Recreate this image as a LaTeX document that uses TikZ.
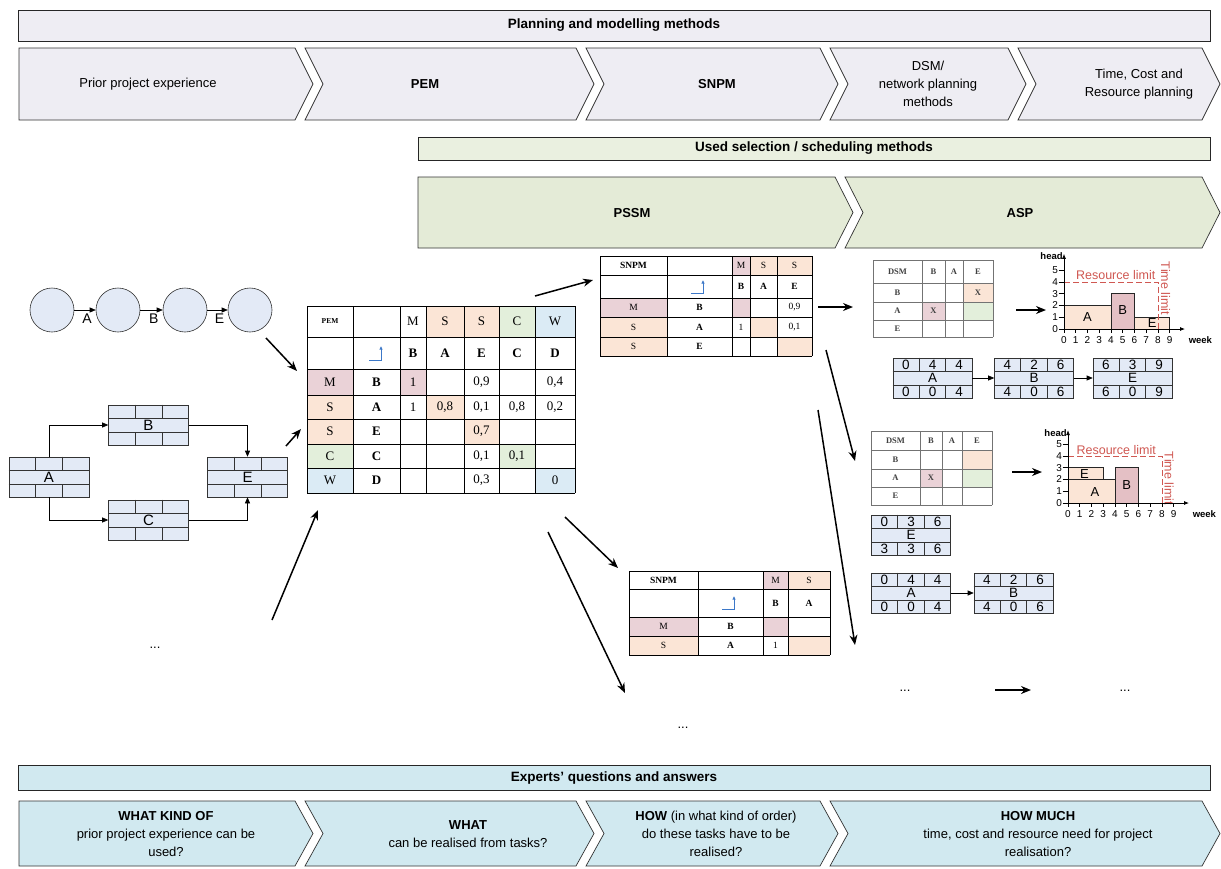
\documentclass[tikz,border=0pt]{standalone}
\usepackage{fontspec}
\setmainfont{Liberation Serif}
\setsansfont{Liberation Sans}
\usetikzlibrary{arrows.meta,calc}
\definecolor{lav}{RGB}{238,237,243}
\definecolor{grnbar}{RGB}{234,240,224}
\definecolor{grnch}{RGB}{228,235,215}
\definecolor{cyn}{RGB}{209,233,240}
\definecolor{bx}{RGB}{227,234,246}
\definecolor{mpink}{RGB}{234,210,215}
\definecolor{morg}{RGB}{251,229,214}
\definecolor{mgrn}{RGB}{227,239,219}
\definecolor{mblu}{RGB}{219,235,245}
\definecolor{rlim}{RGB}{208,88,82}
\definecolor{bpink}{RGB}{228,192,197}
\definecolor{iconblue}{RGB}{60,120,200}
\tikzset{
  chv/.style={draw=black!80, line width=0.7pt},
  clbl/.style={font=\sffamily\fontsize{13}{18}\selectfont, align=center, inner sep=0pt},
  hbar/.style={draw=black!85, line width=0.9pt, inner sep=0pt, font=\sffamily\bfseries\fontsize{13.5}{15}\selectfont},
  big/.style={line width=1.5pt, -{Stealth[length=10pt,width=8pt]}},
  small/.style={line width=0.6pt, -{Triangle[length=6pt,width=5pt]}},
  gridln/.style={draw=black!80, line width=0.6pt},
  circ/.style={circle, draw=black!80, fill=bx, minimum size=44pt, inner sep=0pt, line width=0.6pt},
  clab/.style={font=\sffamily\fontsize{14}{14}\selectfont, inner sep=0pt},
  brick/.style={draw=black!80, fill=bx, minimum width=80pt, minimum height=40pt, inner sep=0pt, line width=0.6pt, font=\sffamily\fontsize{15}{15}\selectfont},
  tbox/.style={draw=black!80, fill=bx, minimum width=79pt, minimum height=40pt, inner sep=0pt, line width=0.6pt, font=\sffamily\fontsize{13.5}{13.5}\selectfont},
  dig/.style={font=\sffamily\fontsize{13.5}{13.5}\selectfont, inner sep=0pt},
  mgrid/.style={draw=black, line width=0.9pt},
  sgrid/.style={draw=black, line width=0.7pt},
  dgrid/.style={draw=black!55, line width=1pt},
  mt/.style={font=\fontsize{13}{13}\selectfont, inner sep=0pt},
  mtb/.style={font=\bfseries\fontsize{13}{13}\selectfont, inner sep=0pt},
  ms/.style={font=\fontsize{9.5}{10}\selectfont, inner sep=0pt},
  msb/.style={font=\bfseries\fontsize{9.5}{10}\selectfont, inner sep=0pt},
  mtiny/.style={font=\bfseries\fontsize{7.5}{8}\selectfont, inner sep=0pt},
  dt/.style={font=\bfseries\fontsize{8.5}{9}\selectfont, inner sep=0pt, text=black!75},
  icon/.style={draw=iconblue, line width=0.9pt, -{Latex[length=3.5pt,width=3.5pt]}},
  chbar/.style={draw=black!85, line width=0.7pt},
  ax/.style={draw=black, line width=0.8pt},
  axarr/.style={draw=black, line width=0.8pt, -{Latex[length=5pt,width=4pt]}},
  axl/.style={font=\sffamily\fontsize{10}{10}\selectfont, inner sep=0pt},
  axb/.style={font=\sffamily\bfseries\fontsize{9.5}{10}\selectfont, inner sep=0pt},
  barl/.style={font=\sffamily\fontsize{13}{13}\selectfont, inner sep=0pt},
  limtxt/.style={font=\sffamily\fontsize{12.5}{13}\selectfont, text=rlim, inner sep=0pt},
  limln/.style={draw=rlim, line width=1pt, dash pattern=on 6pt off 3pt},
  dots/.style={font=\sffamily\fontsize{13}{13}\selectfont, inner sep=0pt},
}
\newcommand\brickgrid[1]{%
  \draw[gridln] ($(#1.north west)+(0,13.33)$) -- ($(#1.north east)+(0,13.33)$);
  \draw[gridln] ($(#1.south west)+(0,-13.33)$) -- ($(#1.south east)+(0,-13.33)$);
  \draw[gridln] ($(#1.north west)!1/3!(#1.north east)$) -- ++(0,13.33);
  \draw[gridln] ($(#1.north west)!2/3!(#1.north east)$) -- ++(0,13.33);
  \draw[gridln] ($(#1.south west)!1/3!(#1.south east)$) -- ++(0,-13.33);
  \draw[gridln] ($(#1.south west)!2/3!(#1.south east)$) -- ++(0,-13.33);
}
\newcommand\tdig[7]{%
  \brickgrid{#1}
  \node[dig] (#1-t1) at ($(#1.north west)!1/6!(#1.north east)+(0,6.67)$) {#2};
  \node[dig] (#1-t2) at ($(#1.north west)!3/6!(#1.north east)+(0,6.67)$) {#3};
  \node[dig] (#1-t3) at ($(#1.north west)!5/6!(#1.north east)+(0,6.67)$) {#4};
  \node[dig] (#1-b1) at ($(#1.south west)!1/6!(#1.south east)+(0,-6.67)$) {#5};
  \node[dig] (#1-b2) at ($(#1.south west)!3/6!(#1.south east)+(0,-6.67)$) {#6};
  \node[dig] (#1-b3) at ($(#1.south west)!5/6!(#1.south east)+(0,-6.67)$) {#7};
}
\begin{document}
\begin{tikzpicture}[x=1pt,y=-1pt]
\useasboundingbox (0,0) rectangle (1221,868);
\fill[white] (0,0) rectangle (1221,868);

% ---------- top: planning and modelling methods ----------
\node[hbar, fill=lav, minimum width=1192pt, minimum height=31pt] (h1) at (614,25.5) {Planning and modelling methods};
\draw[chv, fill=lav] (19,48) -- (295,48) -- (313,84) -- (295,120) -- (19,120) -- cycle;
\draw[chv, fill=lav] (305,48) -- (576,48) -- (594,84) -- (576,120) -- (305,120) -- (323,84) -- cycle;
\draw[chv, fill=lav] (586,48) -- (820,48) -- (838,84) -- (820,120) -- (586,120) -- (604,84) -- cycle;
\draw[chv, fill=lav] (830,48) -- (1008,48) -- (1026,84) -- (1008,120) -- (830,120) -- (848,84) -- cycle;
\draw[chv, fill=lav] (1018,48) -- (1202,48) -- (1220,84) -- (1202,120) -- (1018,120) -- (1036,84) -- cycle;
\node[clbl] (t1) at (148,84) {Prior project experience};
\node[clbl] (t2) at (425,84) {\bfseries PEM};
\node[clbl] (t3) at (717,84) {\bfseries SNPM};
\node[clbl] (t4) at (928,84) {DSM/\\network planning\\methods};
\node[clbl] (t5) at (1139,84) {Time, Cost and\\Resource planning};

% ---------- used selection / scheduling methods ----------
\node[hbar, fill=grnbar, minimum width=792pt, minimum height=23pt] (h2) at (814,148.5) {Used selection / scheduling methods};
\draw[chv, fill=grnch] (418,177) -- (835,177) -- (853,212.5) -- (835,248) -- (418,248) -- cycle;
\draw[chv, fill=grnch] (845,177) -- (1202,177) -- (1220,212.5) -- (1202,248) -- (845,248) -- (863,212.5) -- cycle;
\node[clbl] (t6) at (632,213) {\bfseries PSSM};
\node[clbl] (t7) at (1020,213) {\bfseries ASP};

% ---------- left: network with circles ----------
\node[circ] (k1) at (52,310) {};
\node[circ] (k2) at (118,310) {};
\node[circ] (k3) at (185,310) {};
\node[circ] (k4) at (250,310) {};
\draw[small] (k1) -- (k2) node[pos=0.6, below=4pt, clab] (lA) {A};
\draw[small] (k2) -- (k3) node[pos=0.6, below=4pt, clab] (lB) {B};
\draw[small] (k3) -- (k4) node[pos=0.6, below=4pt, clab] (lE) {E};

% ---------- left: precedence network with bricks ----------
\node[brick] (bA) at (49,477) {A};
\node[brick] (bB) at (148.5,425) {B};
\node[brick] (bC) at (148.5,520) {C};
\node[brick] (bE) at (247.5,477) {E};
\brickgrid{bA}\brickgrid{bB}\brickgrid{bC}\brickgrid{bE}
\draw[small] (bA.north) |- (bB.west);
\draw[small] (bB.east) -| (bE.north);
\draw[small] (bA.south) |- (bC.west);
\draw[small] (bC.east) -| (bE.south);
\node[dots] (d1) at (155,648) {...};

% ---------- thick arrows ----------
\coordinate (a1s) at (266,338); \coordinate (a1e) at (297,371);
\coordinate (a2s) at (286,446); \coordinate (a2e) at (301,429);
\coordinate (a3s) at (272,620); \coordinate (a3e) at (318,510);
\coordinate (a4s) at (535,296); \coordinate (a4e) at (593,280);
\coordinate (a5s) at (565,517); \coordinate (a5e) at (618,568);
\coordinate (a6s) at (548,532); \coordinate (a6e) at (625,693);
\coordinate (a7s) at (818,307); \coordinate (a7e) at (853,307);
\coordinate (a8s) at (826,350); \coordinate (a8e) at (855,461);
\coordinate (a9s) at (818,410); \coordinate (a9e) at (855,645);
\coordinate (a10s) at (1016,310); \coordinate (a10e) at (1046,310);
\coordinate (a11s) at (1012,472); \coordinate (a11e) at (1042,472);
\coordinate (a12s) at (995,690); \coordinate (a12e) at (1031,690);
\foreach \n in {1,...,12} \draw[big] (a\n s) -- (a\n e);

% ---------- PEM matrix ----------
\fill[morg] (426,306) rectangle (464,337);
\fill[morg] (464,306) rectangle (499,337);
\fill[mgrn] (499,306) rectangle (535,337);
\fill[mblu] (535,306) rectangle (575,337);
\fill[mpink] (307,369) rectangle (353,395);
\fill[mpink] (400,369) rectangle (426,395);
\fill[morg] (307,395) rectangle (353,419);
\fill[morg] (426,395) rectangle (464,419);
\fill[morg] (307,419) rectangle (353,444);
\fill[morg] (464,419) rectangle (499,444);
\fill[mgrn] (307,444) rectangle (353,468);
\fill[mgrn] (499,444) rectangle (535,468);
\fill[mblu] (307,468) rectangle (353,493);
\fill[mblu] (535,468) rectangle (575,493);
\foreach \x in {307,353,400,426,464,499,535,575} \draw[mgrid] (\x,306) -- (\x,493);
\foreach \y in {306,337,369,395,419,444,468,493} \draw[mgrid] (307,\y) -- (575,\y);
\node[mtiny] (p0) at (330,321.5) {PEM};
\node[mt] (p1) at (413,321.5) {M};
\node[mt] (p2) at (445,321.5) {S};
\node[mt] (p3) at (481.5,321.5) {S};
\node[mt] (p4) at (517,321.5) {C};
\node[mt] (p5) at (555,321.5) {W};
\draw[icon] (369,360) -- (381,360) -- (381,346);
\node[mtb] (p6) at (413,353) {B};
\node[mtb] (p7) at (445,353) {A};
\node[mtb] (p8) at (481.5,353) {E};
\node[mtb] (p9) at (517,353) {C};
\node[mtb] (p10) at (555,353) {D};
\node[mt] (p11) at (330,382) {M};
\node[mtb] (p12) at (376.5,382) {B};
\node[mt] (p13) at (413,382) {1};
\node[mt] (p14) at (481.5,382) {0,9};
\node[mt] (p15) at (555,382) {0,4};
\node[mt] (p16) at (330,407) {S};
\node[mtb] (p17) at (376.5,407) {A};
\node[mt] (p18) at (413,407) {1};
\node[mt] (p19) at (445,407) {0,8};
\node[mt] (p20) at (481.5,407) {0,1};
\node[mt] (p21) at (517,407) {0,8};
\node[mt] (p22) at (555,407) {0,2};
\node[mt] (p23) at (330,431.5) {S};
\node[mtb] (p24) at (376.5,431.5) {E};
\node[mt] (p25) at (481.5,431.5) {0,7};
\node[mt] (p26) at (330,456) {C};
\node[mtb] (p27) at (376.5,456) {C};
\node[mt] (p28) at (481.5,456) {0,1};
\node[mt] (p29) at (517,456) {0,1};
\node[mt] (p30) at (330,480.5) {W};
\node[mtb] (p31) at (376.5,480.5) {D};
\node[mt] (p32) at (481.5,480.5) {0,3};
\node[mt] (p33) at (555,480.5) {0};

% ---------- SNPM matrix (top) ----------
\fill[mpink] (732,256) rectangle (750,275);
\fill[morg] (750,256) rectangle (777,275);
\fill[morg] (777,256) rectangle (812,275);
\fill[mpink] (600,298) rectangle (667,317);
\fill[mpink] (732,298) rectangle (750,317);
\fill[morg] (600,317) rectangle (667,337);
\fill[morg] (750,317) rectangle (777,337);
\fill[morg] (600,337) rectangle (667,356);
\fill[morg] (777,337) rectangle (812,356);
\foreach \x in {600,667,732,750,777,812} \draw[sgrid] (\x,256) -- (\x,356);
\foreach \y in {256,275,298,317,337,356} \draw[sgrid] (600,\y) -- (812,\y);
\node[msb] (s0) at (633.5,265.5) {SNPM};
\node[ms] (s1) at (741,265.5) {M};
\node[ms] (s2) at (763.5,265.5) {S};
\node[ms] (s3) at (794.5,265.5) {S};
\draw[icon] (691,293) -- (703,293) -- (703,280);
\node[msb] (s4) at (741,286.5) {B};
\node[msb] (s5) at (763.5,286.5) {A};
\node[msb] (s6) at (794.5,286.5) {E};
\node[ms] (s7) at (633.5,307.5) {M};
\node[msb] (s8) at (699.5,307.5) {B};
\node[ms] (s9) at (794.5,307.5) {0,9};
\node[ms] (s10) at (633.5,327) {S};
\node[msb] (s11) at (699.5,327) {A};
\node[ms] (s12) at (741,327) {1};
\node[ms] (s13) at (794.5,327) {0,1};
\node[ms] (s14) at (633.5,346.5) {S};
\node[msb] (s15) at (699.5,346.5) {E};

% ---------- SNPM matrix (bottom) ----------
\fill[mpink] (763,571) rectangle (788,589);
\fill[morg] (788,571) rectangle (830,589);
\fill[mpink] (629,617) rectangle (698,636);
\fill[mpink] (763,617) rectangle (788,636);
\fill[morg] (629,636) rectangle (698,655);
\fill[morg] (788,636) rectangle (830,655);
\foreach \x in {629,698,763,788,830} \draw[sgrid] (\x,571) -- (\x,655);
\foreach \y in {571,589,617,636,655} \draw[sgrid] (629,\y) -- (830,\y);
\node[msb] (q0) at (663.5,580) {SNPM};
\node[ms] (q1) at (775.5,580) {M};
\node[ms] (q2) at (809,580) {S};
\draw[icon] (722,609) -- (734,609) -- (734,596);
\node[msb] (q3) at (775.5,603) {B};
\node[msb] (q4) at (809,603) {A};
\node[ms] (q5) at (663.5,626.5) {M};
\node[msb] (q6) at (730.5,626.5) {B};
\node[ms] (q7) at (663.5,645.5) {S};
\node[msb] (q8) at (730.5,645.5) {A};
\node[ms] (q9) at (775.5,645.5) {1};

% ---------- DSM 1 ----------
\fill[morg] (963,283) rectangle (993,302);
\fill[mpink] (922,302) rectangle (945,320);
\fill[mgrn] (963,302) rectangle (993,320);
\foreach \x in {873,922,945,963,993} \draw[dgrid] (\x,260) -- (\x,337);
\foreach \y in {260,283,302,320,337} \draw[dgrid] (873,\y) -- (993,\y);
\node[dt] (e0) at (897.5,271.5) {DSM};
\node[dt] (e1) at (933.5,271.5) {B};
\node[dt] (e2) at (954,271.5) {A};
\node[dt] (e3) at (978,271.5) {E};
\node[dt] (e4) at (897.5,292.5) {B};
\node[dt] (e5) at (897.5,311) {A};
\node[dt] (e6) at (897.5,328.5) {E};
\node[dt] (e7) at (978,292.5) {X};
\node[dt] (e8) at (933.5,311) {X};

% ---------- DSM 2 ----------
\fill[morg] (962,450) rectangle (992,469);
\fill[mpink] (920,469) rectangle (942,487);
\fill[mgrn] (962,469) rectangle (992,487);
\foreach \x in {871,920,942,962,992} \draw[dgrid] (\x,431) -- (\x,505);
\foreach \y in {431,450,469,487,505} \draw[dgrid] (871,\y) -- (992,\y);
\node[dt] (f0) at (895.5,440.5) {DSM};
\node[dt] (f1) at (931,440.5) {B};
\node[dt] (f2) at (952,440.5) {A};
\node[dt] (f3) at (977,440.5) {E};
\node[dt] (f4) at (895.5,459.5) {B};
\node[dt] (f5) at (895.5,478) {A};
\node[dt] (f6) at (895.5,496) {E};
\node[dt] (f7) at (931,478) {X};

% ---------- chart 1 ----------
\begin{scope}[shift={(1064,329)}, x=11.75pt, y=11.75pt]
  \draw[chbar, fill=morg] (0,0) rectangle (4,2);
  \draw[chbar, fill=bpink] (4,0) rectangle (6,3);
  \draw[chbar, fill=morg] (6,0) rectangle (9,1);
  \node[barl] (g1A) at (2,1) {A};
  \node[barl] (g1B) at (5,1.6) {B};
  \node[barl] (g1E) at (7.5,0.5) {E};
  \draw[limln] (0,4) -- (8,4) -- (8,0);
  \node[limtxt] (g1R) at (4.4,4.6) {Resource limit};
  \node[limtxt, rotate=-90] (g1T) at (8.65,3.45) {Time limit};
  \draw[axarr] (0,0) -- (10.3,0);
  \draw[axarr] (0,0) -- (0,6.4);
  \foreach \i in {0,...,9} {\draw[ax] (\i,0) -- (\i,-0.35); \node[axl] (g1x\i) at (\i,-0.95) {\i};}
  \foreach \j in {0,...,5} {\draw[ax] (-0.45,\j) -- (0,\j); \node[axl, anchor=east] (g1y\j) at (-0.5,\j) {\j};}
  \node[axb, anchor=east] (g1h) at (-0.1,6.2) {head};
  \node[axb, anchor=west] (g1w) at (10.6,-0.95) {week};
\end{scope}

% ---------- chart 2 ----------
\begin{scope}[shift={(1068,503)}, x=11.75pt, y=11.75pt]
  \draw[chbar, fill=morg] (0,0) rectangle (4,2);
  \draw[chbar, fill=morg] (0,2) rectangle (3,3);
  \draw[chbar, fill=bpink] (4,0) rectangle (6,3);
  \node[barl] (g2A) at (2.3,0.95) {A};
  \node[barl] (g2E) at (1.4,2.45) {E};
  \node[barl] (g2B) at (5,1.5) {B};
  \draw[limln] (0,4) -- (8,4) -- (8,0);
  \node[limtxt] (g2R) at (4.1,4.55) {Resource limit};
  \node[limtxt, rotate=-90] (g2T) at (8.6,2.1) {Time limit};
  \draw[axarr] (0,0) -- (10.3,0);
  \draw[axarr] (0,0) -- (0,6.2);
  \foreach \i in {0,...,9} {\draw[ax] (\i,0) -- (\i,-0.35); \node[axl] (g2x\i) at (\i,-0.95) {\i};}
  \foreach \j in {0,...,5} {\draw[ax] (-0.45,\j) -- (0,\j); \node[axl, anchor=east] (g2y\j) at (-0.5,\j) {\j};}
  \node[axb, anchor=east] (g2h) at (-0.1,5.95) {head};
  \node[axb, anchor=west] (g2w) at (10.6,-0.95) {week};
\end{scope}

% ---------- task boxes ----------
\node[tbox] (tA1) at (932.5,378) {A};
\node[tbox] (tB1) at (1034,378) {B};
\node[tbox] (tE1) at (1132.5,378) {E};
\tdig{tA1}{0}{4}{4}{0}{0}{4}
\tdig{tB1}{4}{2}{6}{4}{0}{6}
\tdig{tE1}{6}{3}{9}{6}{0}{9}
\draw[small] (tA1.east) -- (tB1.west);
\draw[small] (tB1.east) -- (tE1.west);
\node[tbox] (tE2) at (911,535) {E};
\tdig{tE2}{0}{3}{6}{3}{3}{6}
\node[tbox] (tA2) at (911,593) {A};
\node[tbox] (tB2) at (1013.5,593) {B};
\tdig{tA2}{0}{4}{4}{0}{0}{4}
\tdig{tB2}{4}{2}{6}{4}{0}{6}
\draw[small] (tA2.east) -- (tB2.west);

\node[dots] (d2) at (683,728) {...};
\node[dots] (d3) at (905,691) {...};
\node[dots] (d4) at (1125,691) {...};

% ---------- bottom: experts' questions ----------
\node[hbar, fill=cyn, minimum width=1192pt, minimum height=25pt] (h3) at (614,777.5) {Experts’ questions and answers};
\draw[chv, fill=cyn] (19,801) -- (295,801) -- (313,833.5) -- (295,866) -- (19,866) -- cycle;
\draw[chv, fill=cyn] (305,801) -- (576,801) -- (594,833.5) -- (576,866) -- (305,866) -- (323,833.5) -- cycle;
\draw[chv, fill=cyn] (586,801) -- (820,801) -- (838,833.5) -- (820,866) -- (586,866) -- (604,833.5) -- cycle;
\draw[chv, fill=cyn] (830,801) -- (1202,801) -- (1220,833.5) -- (1202,866) -- (830,866) -- (848,833.5) -- cycle;
\node[clbl] (u1) at (166,834) {\bfseries WHAT KIND OF\\prior project experience can be\\used?};
\node[clbl] (u2) at (468,834) {\bfseries WHAT\\can be realised from tasks?};
\node[clbl] (u3) at (716,834) {\textbf{HOW} (in what kind of order)\\do these tasks have to be\\realised?};
\node[clbl] (u4) at (1038,834) {\bfseries HOW MUCH\\time, cost and resource need for project\\realisation?};
\end{tikzpicture}
\end{document}
